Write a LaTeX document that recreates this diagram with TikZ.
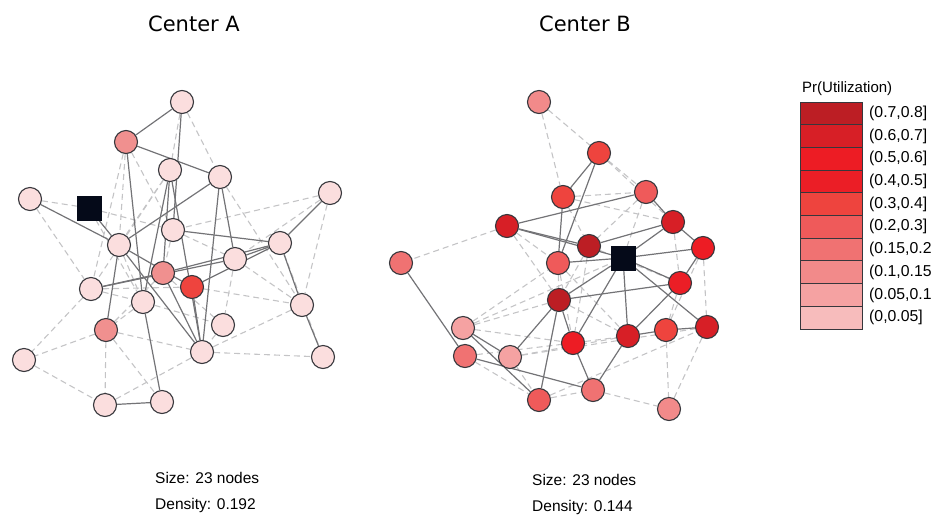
\documentclass[tikz,border=0pt]{standalone}
\usepackage{fontspec}
\setmainfont{Liberation Sans}
\newfontfamily\titlefont{DejaVu Sans}
\usetikzlibrary{backgrounds}

\definecolor{vtxline}{RGB}{55,55,60}
\definecolor{tiegray}{RGB}{115,115,118}
\definecolor{weakgray}{RGB}{196,196,198}
\definecolor{hubfill}{RGB}{5,10,25}
\definecolor{pzero}{RGB}{251,222,222}
\definecolor{plow}{RGB}{240,144,143}
\definecolor{cone}{RGB}{188,30,36}
\definecolor{ctwo}{RGB}{215,31,38}
\definecolor{cthree}{RGB}{237,28,36}
\definecolor{cfour}{RGB}{235,30,38}
\definecolor{cfive}{RGB}{238,68,62}
\definecolor{csix}{RGB}{239,90,90}
\definecolor{cseven}{RGB}{240,114,114}
\definecolor{ceight}{RGB}{242,138,138}
\definecolor{cnine}{RGB}{245,162,162}
\definecolor{cten}{RGB}{247,188,188}

\begin{document}
\begin{tikzpicture}[x=1pt,y=-1pt,
    vtx/.style={circle,draw=vtxline,line width=1.1pt,minimum size=23pt,inner sep=0pt},
    hub/.style={rectangle,fill=hubfill,draw=hubfill,minimum size=24pt,inner sep=0pt},
    tie/.style={draw=tiegray,line width=1.2pt},
    weak/.style={draw=weakgray,line width=1.1pt,dash pattern=on 6pt off 4pt},
    keybox/.style={rectangle,draw=vtxline,line width=0.9pt,minimum width=62pt,minimum height=22.7pt,inner sep=0pt},
    keytext/.style={anchor=west,inner sep=0pt,font=\fontsize{15.8}{17}\selectfont},
    infotext/.style={anchor=west,inner sep=0pt,font=\fontsize{15.5}{16}\selectfont},
    ttl/.style={inner sep=0pt,font=\titlefont\fontsize{21}{23}\selectfont}]
      \useasboundingbox (0,0) rectangle (932,515);

      \node[ttl](ttlA) at (194,24){Center A};
      \node[ttl](ttlB) at (585,24){Center B};

      % Center A
      \node[hub](a0) at ( 89,208){};
      \foreach \n/\x/\y/\c in {1/182/102/pzero,2/126/142/plow,3/170/170/pzero,4/220/177/pzero,
                               5/30/199/pzero,6/330/193/pzero,7/173/230/pzero,8/119/245/pzero,
                               9/280/243/pzero,10/235/259/pzero,11/163/273/plow,12/192/287/cfive,
                               13/91/289/pzero,14/143/302/pzero,15/302/305/pzero,16/223/325/pzero,
                               17/106/330/plow,18/24/360/pzero,19/202/352/pzero,20/323/357/pzero,
                               21/105/405/pzero,22/162/402/pzero} {
        \node[vtx,fill=\c](a\n) at (\x,\y){};
      }

      % Center B
      \node[hub](b0) at (623,258){};
      \foreach \n/\x/\y/\c in {1/539/102/ceight,2/599/153/cfive,3/563/197/cfive,4/646/192/csix,
                               5/507/226/ctwo,6/673/222/ctwo,7/589/246/cone,8/703/248/cthree,
                               9/558/263/csix,10/401/263/cseven,11/680/283/cfour,12/559/300/cone,
                               13/463/328/cnine,14/573/343/cthree,15/628/336/ctwo,16/666/330/cfive,
                               17/707/327/ctwo,18/465/356/cseven,19/510/357/cnine,20/593/390/cseven,
                               21/539/400/csix,22/669/409/ceight} {
        \node[vtx,fill=\c](b\n) at (\x,\y){};
      }

      \begin{pgfonlayer}{background}
        \foreach \s/\t in {1/3,1/4,2/8,2/13,2/7,5/13,5/0,0/7,6/10,6/7,6/15,10/16,10/15,13/18,
                           17/18,18/21,17/21,17/22,16/19,19/20,15/19,11/16,14/17,13/14,12/15,
                           21/19,4/15,9/20,11/17,17/19,3/8,7/11,7/10,13/12,14/16,3/13,0/14,8/14} {
          \draw[weak] (a\s) -- (a\t);
        }
        \foreach \s/\t in {1/2,1/7,2/4,2/14,5/8,0/8,8/19,4/8,4/10,4/19,6/9,7/9,9/10,9/11,9/12,
                           9/15,15/20,8/17,14/22,21/22,12/19,11/19,3/11,3/14,3/19,13/11,13/10,8/12} {
          \draw[tie] (a\s) -- (a\t);
        }

        \foreach \s/\t in {1/3,1/2,2/4,2/6,5/10,5/9,5/12,3/4,4/7,3/6,6/11,8/17,17/22,16/22,20/22,
                           21/20,13/12,13/14,18/21,19/21,14/15,9/12,9/14,7/11,11/16,12/15,19/17,
                           21/17,13/9,7/12,13/0,18/14,19/15,3/7,4/0,8/16,9/15,7/14} {
          \draw[weak] (b\s) -- (b\t);
        }
        \foreach \s/\t in {2/3,2/9,3/9,5/4,5/7,5/0,4/6,6/7,6/8,0/8,0/9,0/11,0/12,0/14,0/15,0/17,
                           0/6,8/11,12/11,12/14,12/19,12/21,11/15,15/16,16/17,15/20,14/20,10/18,
                           13/21,13/19,18/20} {
          \draw[tie] (b\s) -- (b\t);
        }
      \end{pgfonlayer}

      \node[infotext](sizeA) at (155,478){Size: 23 nodes};
      \node[infotext](densA) at (155,505){Density: 0.192};
      \node[infotext](sizeB) at (532,480){Size: 23 nodes};
      \node[infotext](densB) at (532,507){Density: 0.144};

      % legend
      \node[keytext,font=\fontsize{15}{16}\selectfont](keyttl) at (802,89){Pr(Utilization)};
      \foreach \i/\c/\t in {0/cone/{(0.7,0.8]},1/ctwo/{(0.6,0.7]},2/cthree/{(0.5,0.6]},
                            3/cfour/{(0.4,0.5]},4/cfive/{(0.3,0.4]},5/csix/{(0.2,0.3]},
                            6/cseven/{(0.15,0.2},7/ceight/{(0.1,0.15},8/cnine/{(0.05,0.1},
                            9/cten/{(0,0.05]}} {
        \node[keybox,fill=\c](key\i) at (831,113.35+22.7*\i){};
        \node[keytext](lab\i) at (869,113.35+22.7*\i){\t};
      }
\end{tikzpicture}
\end{document}
